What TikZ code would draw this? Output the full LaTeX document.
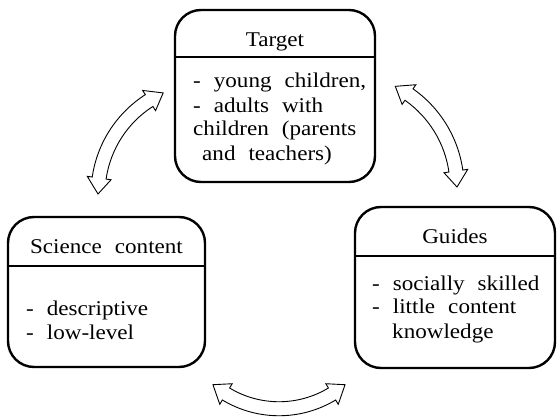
\documentclass[tikz,border=0pt]{standalone}
\usepackage{fontspec}
\setmainfont{Liberation Serif}[FakeStretch=1.1]

% text face for all labels, with wide word spaces
\newcommand\labelfont{\fontsize{21}{24}\selectfont\spaceskip 13pt\relax}

% hollow double-headed arrow bent along a circular arc
% #1 name, #2 #3 centre, #4 radius, #5 #6 start/end angle
\newcommand\hollowarrow[6]{%
  \coordinate (#1) at (#2,#3);
  \pgfmathsetmacro\hdelta{sign(#6-#5)*16/#4*180/pi}%
  \pgfmathsetmacro\bA{#5+\hdelta}%
  \pgfmathsetmacro\bB{#6-\hdelta}%
  \pgfmathsetmacro\rO{#4+7}%
  \pgfmathsetmacro\rI{#4-7}%
  \pgfmathsetmacro\rHo{#4+12}%
  \pgfmathsetmacro\rHi{#4-12}%
  \draw[hollow, shift={(#1)}]
    (\bA:\rO pt) arc[start angle=\bA, end angle=\bB, radius=\rO pt]
    -- (\bB:\rHo pt) -- (#6:#4pt) -- (\bB:\rHi pt) -- (\bB:\rI pt)
    arc[start angle=\bB, end angle=\bA, radius=\rI pt]
    -- (\bA:\rHi pt) -- (#5:#4pt) -- (\bA:\rHo pt) -- cycle;
}

\begin{document}
\begin{tikzpicture}[x=1pt,y=1pt,
  box/.style={draw, line width=2.4pt, rounded corners=26pt, inner sep=0pt},
  rule/.style={line width=2pt},
  txt/.style={inner sep=0pt, anchor=base west, font=\labelfont},
  title/.style={inner sep=0pt, anchor=base, font=\labelfont},
  hollow/.style={draw, line width=0.9pt, fill=white, line join=miter}]
\useasboundingbox (0,0) rectangle (557,416);

% boxes
\node[box, minimum width=200pt, minimum height=172pt] (target) at (275,320) {};
\node[box, minimum width=197pt, minimum height=150pt] (science) at (106.5,124) {};
\node[box, minimum width=200pt, minimum height=161pt] (guides) at (455,128.5) {};

% header separators
\coordinate (tr) at (0,359);
\coordinate (sr) at (0,150);
\coordinate (gr) at (0,160);
\draw[rule] (target.west |- tr) -- (target.east |- tr);
\draw[rule] (science.west |- sr) -- (science.east |- sr);
\draw[rule] (guides.west |- gr) -- (guides.east |- gr);

% Target
\node[title] (th) at (275,369) {Target};
\node[txt] (t1) at (193,328) {- young children,};
\node[txt] (t2) at (193,304) {- adults with};
\node[txt] (t3) at (193,280) {children (parents};
\node[txt] (t4) at (202,256) {and teachers)};

% Science content
\node[title] (sh) at (106.5,163) {Science content};
\node[txt] (s1) at (26,101) {- descriptive};
\node[txt] (s2) at (26,77) {- low-level};

% Guides
\node[title] (gh) at (455,173) {Guides};
\node[txt] (g1) at (372,126) {- socially skilled};
\node[txt] (g2) at (372,103) {- little content};
\node[txt] (g3) at (392,78) {knowledge};

% curved two-way arrows between the boxes
\hollowarrow{aleft}{209}{222}{111}{180}{114.4}
\hollowarrow{aright}{344}{229}{113}{0}{63}
\hollowarrow{abottom}{279}{110}{102.75}{-130}{-50}
\end{tikzpicture}
\end{document}
